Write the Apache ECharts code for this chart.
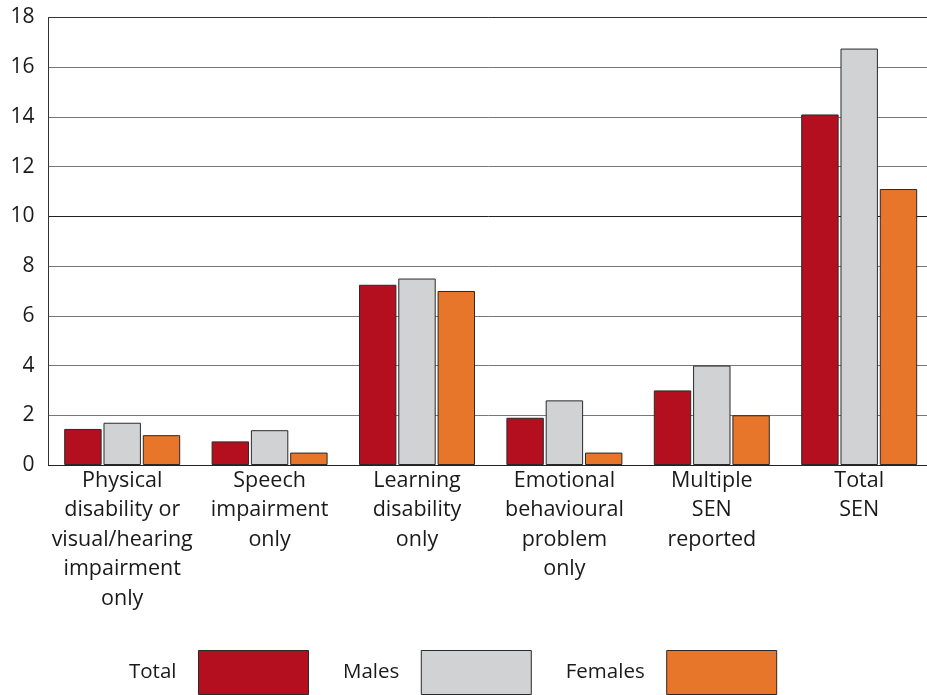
<!DOCTYPE html>
<html><head><meta charset="utf-8">
<script src="https://cdn.jsdelivr.net/npm/echarts@6/dist/echarts.min.js"></script>
<style>html,body{margin:0;padding:0;background:#fff}#c{width:927px;height:695px}</style>
</head><body><div id="c"></div>
<script>
var categories = ["Physical\ndisability or\nvisual/hearing\nimpairment\nonly", "Speech\nimpairment\nonly", "Learning\ndisability\nonly", "Emotional\nbehavioural\nproblem\nonly", "Multiple\nSEN\nreported", "Total\nSEN"];
var totalValues = [1.45, 0.95, 7.25, 1.9, 3.0, 14.1];
var maleValues = [1.7, 1.4, 7.5, 2.6, 4.0, 16.75];
var femaleValues = [1.2, 0.5, 7.0, 0.5, 2.0, 11.1];
var seriesNames = ["Total", "Males", "Females"];
var colors = ["#b40f1e", "#d1d2d4", "#e8762a"];

var font = "Open Sans";
var chart = echarts.init(document.getElementById('c'));
function mk(name, data, color) {
  return {
    name: name, type: 'bar', data: data,
    barCategoryGap: '21.3%', barGap: '5%',
    itemStyle: { color: color, borderColor: '#2a2a2a', borderWidth: 1 }
  };
}
chart.setOption({
  animation: false,
  grid: { left: 48.5, top: 17.5, width: 884.4, bottom: 230, containLabel: false, outerBoundsMode: 'none' },
  legend: {
    left: 129, top: 650, padding: 0, align: 'right', icon: 'rect',
    itemWidth: 110, itemHeight: 44, itemGap: 34,
    itemStyle: { borderColor: '#2a2a2a', borderWidth: 1 },
    textStyle: { fontFamily: font, fontSize: 20.5, color: '#1a1a1a', padding: [0, 17, 0, 0] },
    data: seriesNames
  },
  xAxis: {
    type: 'category', data: categories,
    axisLine: { lineStyle: { color: '#222', width: 1 } },
    axisTick: { inside: true, length: 10, lineStyle: { color: '#666' } },
    axisLabel: { interval: 0, fontFamily: font, fontSize: 21.5, color: '#1a1a1a', lineHeight: 29.5, margin: 1 }
  },
  yAxis: {
    type: 'value', min: 0, max: 18, interval: 2,
    axisLine: { show: true, lineStyle: { color: '#333', width: 1 } },
    axisTick: { show: false },
    axisLabel: { fontFamily: font, fontSize: 21, color: '#1a1a1a', margin: 14 },
    splitLine: { lineStyle: { color: ['#222', '#777', '#777', '#777', '#777', '#222', '#777', '#777', '#777', '#333'], width: 1 } }
  },
  series: [mk(seriesNames[0], totalValues, colors[0]), mk(seriesNames[1], maleValues, colors[1]), mk(seriesNames[2], femaleValues, colors[2])]
});
</script></body></html>
